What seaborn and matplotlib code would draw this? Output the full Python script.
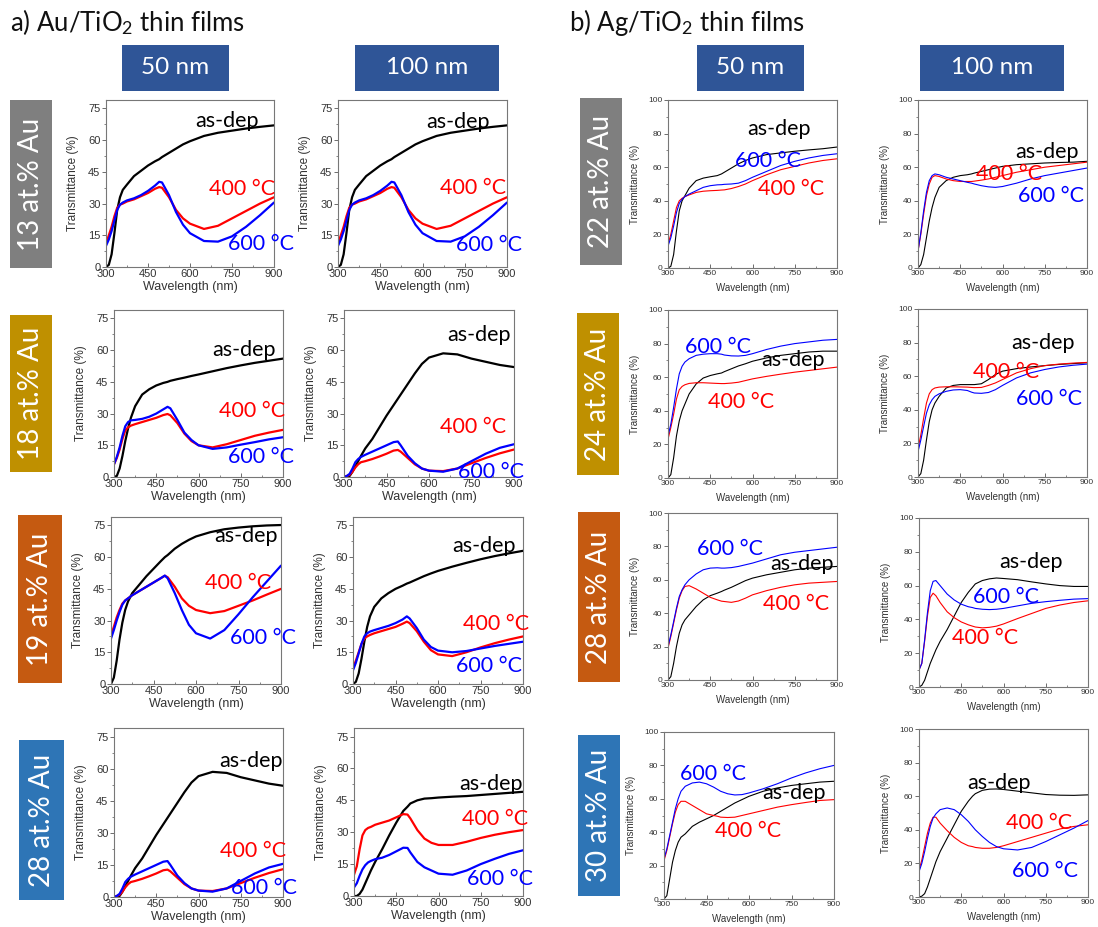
import matplotlib
matplotlib.use("Agg")
import matplotlib.pyplot as plt
import numpy as np
import pandas as pd
import seaborn as sns
from matplotlib.patches import Rectangle
from matplotlib.ticker import MultipleLocator

sns.set_theme(style="ticks")
plt.rcParams["font.family"] = ["Liberation Sans", "DejaVu Sans"]
plt.rcParams["mathtext.fontset"] = "custom"
plt.rcParams["mathtext.rm"] = "Lato"
plt.rcParams["mathtext.it"] = "Lato:italic"

# ---------------- data ----------------
WL = [300, 310, 320, 330, 340, 350, 360, 375, 400, 425, 450, 475, 490, 500,
      525, 550, 575, 600, 650, 700, 750, 800, 850, 900]

# Au/TiO2, 13 at.% Au
AU13_50_ASDEP = [0, 1, 6, 16, 27, 33, 36.5, 39, 43, 45.5, 48, 50, 51, 52, 54, 56, 58, 59.5, 62, 63.5, 64.5, 65.5, 66.3, 67]
AU13_50_T400 = [11, 15, 19, 24, 28, 29.5, 30, 31, 32, 33.5, 35, 37, 37.8, 37.5, 33, 27, 23, 20.5, 18, 19.5, 23, 26.5, 30, 33]
AU13_50_T600 = [10, 13, 17, 22, 27, 29.5, 30.5, 31.5, 32.5, 34, 36, 38.5, 40.3, 40, 34, 26, 20, 16, 12.3, 12, 14.5, 19, 24.5, 30.5]
AU13_100_ASDEP = list(AU13_50_ASDEP)
AU13_100_T400 = list(AU13_50_T400)
AU13_100_T600 = list(AU13_50_T600)
# 18 at.% Au
AU18_50_ASDEP = [0, 0.5, 4, 10, 17, 23, 28, 33.5, 39, 41.5, 43.3, 44.5, 45, 45.5, 46.3, 47, 47.8, 48.5, 50, 51.5, 52.8, 54, 55, 56]
AU18_50_T400 = [6, 9, 13, 18, 22, 23.5, 24.3, 25, 26, 27, 28, 29.3, 29.8, 29.2, 25.5, 20.5, 17, 15, 14, 15.5, 17.5, 19.5, 21, 22.3]
AU18_50_T600 = [6, 9.5, 14, 19.5, 24, 26, 26.8, 27, 27.5, 28.5, 30, 32, 33.2, 32.5, 27, 21, 17.5, 15, 13.3, 14, 15.3, 16.5, 17.8, 18.8]
AU18_100_ASDEP = [0, 0, 0.5, 2.5, 5, 7.5, 10, 13.5, 18, 23.5, 29, 34, 37, 39, 44, 49, 53.5, 56.5, 58.5, 58, 56, 54.5, 53, 52]
AU18_100_T400 = [0, 0.5, 1, 2.5, 4.5, 6, 7, 7.5, 8.5, 9.7, 11, 12.5, 12.8, 12, 9, 6, 4, 3, 2.8, 4, 6.5, 9, 11.2, 13]
AU18_100_T600 = [0, 0.5, 1.5, 4, 7, 8.5, 9.5, 10.5, 12, 13.5, 15, 16.5, 16.8, 15, 10, 6.5, 4, 3, 2.5, 4, 7.5, 11, 13.8, 15.5]
# 19 at.% Au
AU19_50_ASDEP = [0, 3, 11, 21, 29, 35, 39, 43, 47, 51, 54.5, 58, 60, 61, 64, 66.3, 68.2, 69.8, 71.8, 73.2, 74, 74.6, 75, 75.2]
AU19_50_T400 = [23, 27, 31.5, 35, 38, 39.5, 40.5, 42, 44, 46, 48, 50, 51.2, 50.5, 46, 40.5, 37, 35, 33.5, 34.5, 37, 39.5, 42.3, 45]
AU19_50_T600 = [21.5, 25.5, 30, 34, 37.5, 39.5, 40.5, 42, 44, 46, 48, 50, 51.3, 50, 43, 35, 28, 24, 21.5, 25.5, 33, 41, 48.5, 56]
AU19_100_ASDEP = [0, 1, 5, 12, 20, 27, 32, 36.5, 40.5, 43, 45, 46.5, 47.5, 48, 49.5, 51, 52.3, 53.5, 55.5, 57.3, 59, 60.5, 61.8, 63]
AU19_100_T400 = [7.5, 11, 15, 19, 21.5, 22.5, 23.2, 24, 25, 26, 27, 28.5, 29.5, 28.8, 25, 20, 16, 14, 13.2, 15, 17.3, 19.3, 21, 22.5]
AU19_100_T600 = [6.5, 10, 14.5, 19, 22.5, 24, 24.8, 25.5, 26.5, 27.5, 28.8, 30.5, 32, 31, 26.5, 21, 17.5, 15.8, 15, 15.6, 16.8, 18, 19, 20]
# 28 at.% Au
AU28_50_ASDEP = list(AU18_100_ASDEP)
AU28_50_T400 = list(AU18_100_T400)
AU28_50_T600 = list(AU18_100_T600)
AU28_100_ASDEP = [0, 0, 1, 3, 6, 9, 12, 16, 22, 28.5, 34.5, 40, 42, 43.5, 45, 45.8, 46, 46.3, 46.7, 47, 47.5, 48, 48.5, 49]
AU28_100_T400 = [10, 14, 22, 28.5, 31, 32, 32.5, 33.5, 34.5, 35.5, 37, 38.5, 38.3, 36.5, 31, 27, 25, 24, 24, 25.5, 27.3, 28.8, 30, 31]
AU28_100_T600 = [4, 6, 9.5, 12.5, 14.5, 15.8, 16.5, 17.3, 18, 19.3, 21, 22.7, 22.6, 20.5, 16, 13.5, 12, 10.5, 10, 12, 15, 17.5, 19.8, 21.5]

# Ag/TiO2
AG22_50_ASDEP = [0, 1, 8, 22, 34, 40, 43, 47.5, 52, 53.5, 54.3, 55, 56, 57, 59.5, 62, 64, 65.5, 67.5, 68.5, 69.5, 70.3, 71, 72]
AG22_50_T400 = [14, 20, 28, 36, 40, 41.5, 42.5, 43.5, 45, 45.7, 46, 46.2, 46.4, 46.5, 47.3, 48.5, 50, 52, 55.5, 58.5, 60.5, 62.5, 64, 65]
AG22_50_T600 = [13, 18, 25, 33, 38.5, 41, 42.5, 44, 46, 48, 49, 49.5, 49.6, 49.8, 50, 50.5, 52, 54, 57.5, 61, 63.5, 65.5, 67, 68]
AG22_100_ASDEP = [0, 2, 8, 18, 28, 36, 42, 48, 52, 54, 55, 55.5, 56, 56.5, 57.5, 58.5, 59.5, 60.5, 61.5, 62, 62.5, 62.8, 63, 63.5]
AG22_100_T400 = [10, 20, 32, 43, 50, 54, 55, 54.5, 53, 52, 51.5, 51.5, 51.5, 51.7, 52.3, 53, 54, 55, 57, 58.5, 60, 61, 62, 63]
AG22_100_T600 = [10, 21, 34, 45, 52, 55, 56, 55.5, 54, 53, 52, 51, 50.5, 50, 49, 48.3, 48, 48.5, 50.5, 53, 55, 56.5, 58, 59.5]
AG24_50_ASDEP = [0, 2, 12, 25, 34, 40, 44, 50, 56, 59.5, 61, 62, 62.5, 63.3, 65, 66.7, 68, 69.5, 71.5, 73, 74, 75, 75.5, 75.5]
AG24_50_T400 = [23, 30, 38, 47, 52.5, 54.5, 55.5, 56.3, 56.7, 56.7, 56.5, 56.3, 56.2, 56.2, 56.5, 57, 58, 59, 60.5, 61.8, 63, 64, 65, 66]
AG24_50_T600 = [25, 32, 42, 53, 62, 66.5, 69, 71, 73, 73.7, 74, 74, 73.7, 73.2, 72.7, 72.6, 73, 74, 76.5, 78.5, 80, 81, 82, 82.5]
AG24_100_ASDEP = [0, 2, 10, 22, 33, 40, 44, 48, 53, 54.5, 55, 55, 55, 55, 55.5, 58, 61, 63, 64.5, 65.5, 66.3, 67, 67.5, 68]
AG24_100_T400 = [17, 25, 35, 44, 49.5, 52, 53, 53.5, 53.7, 53.7, 53.6, 53.5, 53.3, 53.2, 53.3, 54.5, 56, 58, 62, 64.5, 66.3, 67.2, 67.8, 68.2]
AG24_100_T600 = [15, 22, 30, 38, 43, 46, 48, 49.5, 51, 51.8, 52, 51.5, 50.5, 50, 49.8, 50.3, 52, 54.5, 59, 62, 64, 65.5, 66.5, 67.2]
AG28_50_ASDEP = [0, 2, 10, 20, 28, 33, 36, 39, 44, 48, 50.5, 52, 53, 53.8, 55.5, 57.5, 59.5, 61, 63, 64.5, 66, 67, 67.5, 68]
AG28_50_T400 = [19, 26, 34, 42, 49, 53.5, 56, 56.5, 54.5, 52, 49.5, 48, 47.2, 47, 46.5, 47.3, 49, 51, 53.5, 55.5, 57, 58, 58.5, 59]
AG28_50_T600 = [20, 27, 35, 43, 50, 54, 57, 60, 63.5, 66, 67, 67.2, 67, 67, 67.3, 68, 69, 70, 72.5, 75, 76.5, 77.5, 78.5, 79.5]
AG28_100_ASDEP = [0, 1, 4, 9, 14, 18, 22, 27, 34, 42, 50, 56, 59, 61, 63, 64, 64.5, 64.2, 63.5, 62.2, 61, 60, 59.5, 59.5]
AG28_100_T400 = [10, 14, 27, 42, 53, 55.5, 54, 50, 44.5, 41, 38.5, 36.8, 36, 35.5, 35, 35.3, 36, 37.3, 40.5, 43.5, 46.5, 48.5, 50, 51]
AG28_100_T600 = [10, 14, 28, 44, 57, 62.5, 63, 60, 55, 51.5, 49, 47.5, 47, 46.5, 46, 45.8, 46, 46.5, 48, 49.5, 50.5, 51.3, 52, 52.3]
AG30_50_ASDEP = [0, 2, 12, 22, 29, 34, 37, 39, 43.5, 46, 48, 50, 51.5, 52.5, 55, 57.5, 59.5, 61.5, 64.5, 66.5, 68, 69, 70, 70.5]
AG30_50_T400 = [23, 29, 37, 45, 52, 56.5, 58.5, 58.5, 56, 53.5, 51, 50, 49.5, 49, 48.8, 49, 50, 51, 53, 55, 56.5, 57.8, 59, 59.5]
AG30_50_T600 = [24, 30, 38, 46, 54, 60, 64.5, 67.5, 69.5, 70, 69, 67, 65.5, 64.5, 63, 62.3, 62.5, 63.5, 66, 69, 72.5, 75.5, 78, 80]
AG30_100_ASDEP = [0, 0.5, 2, 6, 11, 16, 21, 27, 35, 43, 51, 57, 60, 61.5, 63.5, 64.2, 64.3, 64, 63, 62, 61, 60.6, 60.5, 60.8]
AG30_100_T400 = [16, 22, 30, 38, 44, 47.5, 47.5, 44, 39.5, 35.5, 32.5, 30.5, 30, 29.5, 29, 29, 29.5, 30.5, 33, 35.5, 38, 40.5, 42, 43]
AG30_100_T600 = [15, 20, 27, 35, 42, 47, 49.5, 52, 53, 52, 49, 45, 42, 40, 36, 32.5, 30, 28.7, 28, 29.5, 33, 37, 41, 45.5]

CONDITIONS = ["as-dep", "400 °C", "600 °C"]
LINE_COLORS = {"as-dep": "#000000", "400 °C": "#FF0000", "600 °C": "#0000FF"}

TITLES = ["a) Au/TiO$_\\mathregular{2}$ thin films", "b) Ag/TiO$_\\mathregular{2}$ thin films"]
THICKNESS = ["50 nm", "100 nm"]
AU_LABELS = ["13 at.% Au", "18 at.% Au", "19 at.% Au", "28 at.% Au"]
AG_LABELS = ["22 at.% Au", "24 at.% Au", "28 at.% Au", "30 at.% Au"]
ROW_COLORS = ["#7F7F7F", "#BF9000", "#C55A11", "#2E75B6"]
HEADER_COLOR = "#2F5597"

# ---------------- layout (pixels) ----------------
W_PX, H_PX = 1098, 927
fig = plt.figure(figsize=(W_PX / 100, H_PX / 100), dpi=100)
fig.patch.set_facecolor("white")


def fig_rect(x0, y0, x1, y1):
    return [x0 / W_PX, 1 - y1 / H_PX, (x1 - x0) / W_PX, (y1 - y0) / H_PX]


def box(x0, y0, x1, y1, color, text, size, rot=0):
    r = fig_rect(x0, y0, x1, y1)
    fig.add_artist(Rectangle((r[0], r[1]), r[2], r[3], transform=fig.transFigure,
                             facecolor=color, edgecolor="none"))
    fig.text(r[0] + r[2] / 2, r[1] + r[3] / 2, text, color="white", fontsize=size,
             family="Lato", rotation=rot, ha="center", va="center")


panels = [
    # (kind, rect(l,t,r,b), series, note positions for as-dep / 400 / 600)
    ("au", (106, 100, 274, 267), (AU13_50_ASDEP, AU13_50_T400, AU13_50_T600),
     [(732, 69), (787, 37), (854, 10.8)]),
    ("au", (338, 100, 507, 267), (AU13_100_ASDEP, AU13_100_T400, AU13_100_T600),
     [(725, 68.5), (780, 37.5), (835, 10.5)]),
    ("au", (114, 310, 283, 477), (AU18_50_ASDEP, AU18_50_T400, AU18_50_T600),
     [(760, 60), (790, 31), (822, 9.5)]),
    ("au", (344, 310, 514, 477), (AU18_100_ASDEP, AU18_100_T400, AU18_100_T600),
     [(777, 67.4), (757, 23.8), (819, 2.4)]),
    ("au", (111, 517, 281, 684), (AU19_50_ASDEP, AU19_50_T400, AU19_50_T600),
     [(775, 70), (750, 48), (838, 21.9)]),
    ("au", (353, 517, 523, 684), (AU19_100_ASDEP, AU19_100_T400, AU19_100_T600),
     [(762, 65.4), (806, 28.2), (780, 8.4)]),
    ("au", (114, 728, 283, 897), (AU28_50_ASDEP, AU28_50_T400, AU28_50_T600),
     [(786, 63.7), (795, 21.4), (831, 4)]),
    ("au", (354, 728, 523, 896), (AU28_100_ASDEP, AU28_100_T400, AU28_100_T600),
     [(785, 52.5), (800, 36.4), (818, 8.2)]),
    ("ag", (668, 100, 837, 268), (AG22_50_ASDEP, AG22_50_T400, AG22_50_T600),
     [(694, 83), (736, 47), (655, 63.4)]),
    ("ag", (918, 100, 1087, 268), (AG22_100_ASDEP, AG22_100_T400, AG22_100_T600),
     [(759, 69), (625, 56), (773, 43)]),
    ("ag", (668, 310, 837, 478), (AG24_50_ASDEP, AG24_50_T400, AG24_50_T600),
     [(745, 70), (560, 45.3), (478, 78)]),
    ("ag", (918, 309, 1087, 477), (AG24_100_ASDEP, AG24_100_T400, AG24_100_T600),
     [(745, 79.6), (612, 62.3), (765, 46.4)]),
    ("ag", (668, 513, 837, 680), (AG28_50_ASDEP, AG28_50_T400, AG28_50_T600),
     [(776, 69.7), (756, 45.8), (520, 78.7)]),
    ("ag", (919, 518, 1088, 687), (AG28_100_ASDEP, AG28_100_T400, AG28_100_T600),
     [(696, 73.7), (534, 28.7), (609, 53.5)]),
    ("ag", (664, 732, 834, 899), (AG30_50_ASDEP, AG30_50_T400, AG30_50_T600),
     [(760, 63.3), (598, 40.8), (472, 74.7)]),
    ("ag", (919, 729, 1088, 897), (AG30_100_ASDEP, AG30_100_T400, AG30_100_T600),
     [(585, 68), (727, 44), (748, 15.2)]),
]

for kind, (l, t, r, b), series, notes in panels:
    ax = fig.add_axes(fig_rect(l, t, r, b))
    n = len(WL)
    df = pd.DataFrame({
        "Wavelength": WL * 3,
        "T": list(series[0]) + list(series[1]) + list(series[2]),
        "cond": [c for c in CONDITIONS for _ in range(n)],
    })
    lw = 1.6 if kind == "au" else 0.8
    sns.lineplot(data=df, x="Wavelength", y="T", hue="cond", palette=LINE_COLORS,
                 hue_order=CONDITIONS, linewidth=lw, legend=False, ax=ax,
                 estimator=None)
    ax.set_xlim(300, 900)
    ax.xaxis.set_major_locator(MultipleLocator(150))
    ax.xaxis.set_minor_locator(MultipleLocator(75))
    if kind == "au":
        ax.set_ylim(0, 79)
        ax.yaxis.set_major_locator(MultipleLocator(15))
        ax.yaxis.set_minor_locator(MultipleLocator(7.5))
        tsize, lsize = 8, 9
    else:
        ax.set_ylim(0, 100)
        ax.yaxis.set_major_locator(MultipleLocator(20))
        ax.yaxis.set_minor_locator(MultipleLocator(10))
        tsize, lsize = 6, 7
    ax.tick_params(axis="y", which="major", direction="out", length=3, width=0.6,
                   labelsize=tsize, pad=1, colors="#555555", labelcolor="#333333")
    ax.tick_params(axis="y", which="minor", direction="out", length=1.5, width=0.5,
                   colors="#555555")
    ax.tick_params(axis="x", which="major", direction="in", length=3, width=0.6,
                   labelsize=tsize, pad=1.5, colors="#555555", labelcolor="#333333")
    ax.tick_params(axis="x", which="minor", direction="in", length=1.5, width=0.5,
                   colors="#555555")
    for s in ax.spines.values():
        s.set_color("#777777")
        s.set_linewidth(0.8)
    wpx, hpx = r - l, b - t
    ax.set_xlabel("Wavelength (nm)", fontsize=lsize, color="#333333")
    ax.set_ylabel("Transmittance (%)", fontsize=lsize - (0.5 if kind == "au" else 0),
                  color="#333333")
    ax.xaxis.set_label_coords(0.5, -20 / hpx)
    ax.xaxis.label.set_va("center")
    ax.yaxis.set_label_coords(-33 / wpx, 0.5)
    ax.yaxis.label.set_va("center")
    for cond, (nx, ny) in zip(CONDITIONS, notes):
        ax.text(nx, ny, cond, color=LINE_COLORS[cond], fontsize=15.5, family="Lato",
                ha="center", va="center", clip_on=False)

# titles
fig.text(10 / W_PX, 1 - 22 / H_PX, TITLES[0], fontsize=18.5, family="Lato",
         ha="left", va="center", color="#111111")
fig.text(569 / W_PX, 1 - 22 / H_PX, TITLES[1], fontsize=18.5, family="Lato",
         ha="left", va="center", color="#111111")

# thickness headers
box(122, 45, 229, 91, HEADER_COLOR, THICKNESS[0], 17.5)
box(355, 45, 499, 91, HEADER_COLOR, THICKNESS[1], 17.5)
box(697, 45, 804, 91, HEADER_COLOR, THICKNESS[0], 17.5)
box(920, 45, 1064, 91, HEADER_COLOR, THICKNESS[1], 17.5)

# composition labels
au_boxes = [(10, 100, 52, 268), (10, 315, 52, 472), (18, 515, 62, 683), (19, 740, 64, 900)]
ag_boxes = [(580, 98, 622, 265), (577, 313, 619, 475), (578, 512, 620, 682), (578, 735, 620, 896)]
for (x0, y0, x1, y1), lab, col in zip(au_boxes, AU_LABELS, ROW_COLORS):
    box(x0, y0, x1, y1, col, lab, 20, rot=90)
for (x0, y0, x1, y1), lab, col in zip(ag_boxes, AG_LABELS, ROW_COLORS):
    box(x0, y0, x1, y1, col, lab, 20, rot=90)

fig.savefig("out.png", dpi=100, facecolor="white")
